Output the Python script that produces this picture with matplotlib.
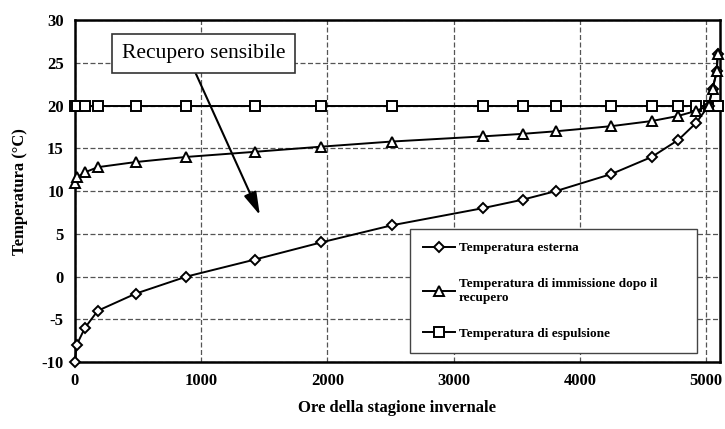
import numpy as np
import matplotlib
matplotlib.use("Agg")
import matplotlib.pyplot as plt

# hours of the heating season (shared by the three series)
ore = [0, 13, 79, 180, 480, 883, 1427, 1951, 2510, 3230, 3547, 3810,
       4250, 4570, 4781, 4923, 5020, 5052, 5085, 5092]

t_esterna = [-10, -8, -6, -4, -2, 0, 2, 4, 6, 8, 9, 10,
             12, 14, 16, 18, 20, 22, 24, 26]
t_immissione = [11, 11.6, 12.2, 12.8, 13.4, 14, 14.6, 15.2, 15.8, 16.4, 16.7, 17,
                17.6, 18.2, 18.8, 19.4, 20, 22, 24, 26]
t_espulsione = [20] * 20

labels = ["Temperatura esterna",
          "Temperatura di immissione dopo il\nrecupero",
          "Temperatura di espulsione"]

plt.rcParams['font.family'] = ['Liberation Serif', 'DejaVu Serif']

fig = plt.figure(figsize=(7.25, 4.29), dpi=100)
ax = fig.add_axes([0.1034, 0.156, 0.8896, 0.797])

ax.plot(ore, t_esterna, color='black', lw=1.4, marker='D', ms=5,
        mfc='white', mec='black', mew=1.4, label=labels[0], zorder=4, clip_on=False)
ax.plot(ore, t_immissione, color='black', lw=1.4, marker='^', ms=7,
        mfc='white', mec='black', mew=1.4, label=labels[1], zorder=4, clip_on=False)
ax.plot(ore, t_espulsione, color='black', lw=1.4, marker='s', ms=7.5,
        mfc='white', mec='black', mew=1.4, label=labels[2], zorder=3, clip_on=False)

ax.set_xlim(0, 5110)
ax.set_ylim(-10, 30)
ax.set_xticks([0, 1000, 2000, 3000, 4000, 5000])
ax.set_yticks(np.arange(-10, 31, 5))
ax.set_yticklabels([str(v) for v in range(-10, 31, 5)])
ax.tick_params(length=0, labelsize=12, pad=8)
for lab in ax.get_xticklabels() + ax.get_yticklabels():
    lab.set_fontweight('bold')

ax.grid(True, color='#555555', ls=(0, (4, 2)), lw=0.9)
for sp in ax.spines.values():
    sp.set_linewidth(1.8)

ax.set_xlabel("Ore della stagione invernale", fontsize=12, fontweight='bold', labelpad=8)
ax.set_ylabel("Temperatura (°C)", fontsize=12, fontweight='bold', labelpad=10)

# annotation box with arrow
ax.annotate("", xy=(1465, 7.2), xytext=(950, 24),
            arrowprops=dict(arrowstyle='-|>,head_width=0.4,head_length=1.4',
                            color='black', lw=1.5, shrinkA=0, shrinkB=0), zorder=5)
ax.text(1017, 26.1, "Recupero sensibile", fontsize=15.5, va='center', ha='center',
        bbox=dict(boxstyle='square,pad=0.45', fc='white', ec='#333333', lw=1.2), zorder=6)

leg = ax.legend(loc='lower left', bbox_to_anchor=(0.519, 0.026, 0.445, 0.36),
                mode='expand', borderaxespad=0, frameon=True, fancybox=False,
                edgecolor='#444444', framealpha=1, borderpad=1.0, labelspacing=1.8,
                handlelength=2.4, handletextpad=0.3,
                prop={'size': 9.5, 'weight': 'bold'})
leg.get_frame().set_linewidth(1.0)
leg.set_zorder(7)

fig.savefig("out.png", dpi=100)
